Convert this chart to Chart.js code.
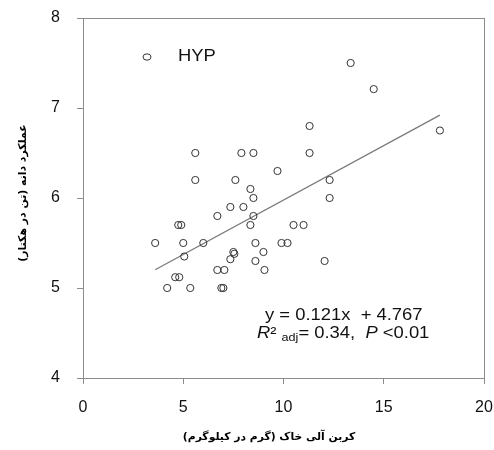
<!DOCTYPE html>
<html>
<head>
<meta charset="utf-8">
<script src="https://cdn.jsdelivr.net/npm/chart.js@4.4.0/dist/chart.umd.min.js"></script>
<style>
    html, body { margin: 0; padding: 0; background: #fff; }
</style>
</head>
<body>
<canvas id="chart" width="494" height="450"></canvas>
<script>
// Dados
const carbonoSolo = [5.6, 7.9, 8.5, 5.6, 7.6, 8.35, 9.7, 13.35, 14.5, 11.3, 17.8, 11.3, 12.3, 8.5, 7.35, 8.0,
    6.7, 8.5, 4.75, 4.9, 8.35, 3.6, 5.0, 6.0, 8.6, 9.9, 10.2, 7.5, 7.55, 9.0, 5.05, 7.35, 8.6, 6.7, 7.05,
    9.05, 4.6, 4.8, 4.2, 5.35, 6.9, 7.0, 12.3, 10.5, 11.0, 12.05];
const rendimento = [6.5, 6.5, 6.5, 6.2, 6.2, 6.1, 6.3, 7.5, 7.21, 6.8, 6.75, 6.5, 6.2, 6.0, 5.9, 5.9,
    5.8, 5.8, 5.7, 5.7, 5.7, 5.5, 5.5, 5.5, 5.5, 5.5, 5.5, 5.4, 5.38, 5.4, 5.35, 5.32, 5.3, 5.2, 5.2,
    5.2, 5.12, 5.12, 5.0, 5.0, 5.0, 5.0, 6.0, 5.7, 5.7, 5.3];
const xTicks = [0, 5, 10, 15, 20];
const yTicks = [4, 5, 6, 7, 8];
const serieLabel = 'HYP';
const tituloX = 'کربن آلی خاک (گرم در کیلوگرم)';
const tituloY = 'عملکرد دانه (تن در هکتار)';
const inclinacao = 0.121;
const intercepto = 4.767;
const faixaAjuste = [3.6, 17.8];

const pontos = carbonoSolo.map((x, i) => ({ x: x, y: rendimento[i] }));
const linhaAjuste = faixaAjuste.map(x => ({ x: x, y: inclinacao * x + intercepto }));

const fonteBase = '"Liberation Sans", Arial, sans-serif';
const fonteTitulo = '"DejaVu Sans", sans-serif';
const corEixo = '#8c8c8c';

// Ajustar tamanho da fonte para caber na largura desejada
function fonteParaLargura(ctx, texto, largura) {
    ctx.font = 'bold 10px ' + fonteTitulo;
    const w = ctx.measureText(texto).width;
    const tam = Math.max(8, Math.min(14, 10 * largura / w));
    return 'bold ' + tam.toFixed(1) + 'px ' + fonteTitulo;
}

// Desenhar moldura, legenda, títulos e equação
const extras = {
    id: 'extras',
    afterDraw(chart) {
        const ctx = chart.ctx;
        const a = chart.chartArea;
        ctx.save();
        ctx.strokeStyle = corEixo;
        ctx.lineWidth = 1;
        ctx.strokeRect(Math.round(a.left) + 0.5, Math.round(a.top) + 0.5,
            Math.round(a.right - a.left), Math.round(a.bottom - a.top));

        // legenda
        ctx.beginPath();
        ctx.ellipse(147, 57, 4, 3.2, 0, 0, Math.PI * 2);
        ctx.strokeStyle = '#333';
        ctx.stroke();
        ctx.fillStyle = '#111';
        ctx.font = '16px ' + fonteBase;
        ctx.textBaseline = 'middle';
        ctx.textAlign = 'left';
        ctx.save();
        ctx.translate(178, 57);
        ctx.scale(1.15, 1);
        ctx.fillText(serieLabel, 0, 0);
        ctx.restore();

        // equação
        ctx.textBaseline = 'alphabetic';
        ctx.save();
        ctx.translate(265, 320);
        ctx.scale(1.15, 1);
        ctx.font = '16px ' + fonteBase;
        ctx.fillText('y = ' + inclinacao + 'x  + ' + intercepto, 0, 0);
        ctx.restore();

        ctx.save();
        ctx.translate(257, 338);
        ctx.scale(1.15, 1);
        const partes = [
            ['R', 'italic 16px', 0],
            ['² ', '16px', 0],
            ['adj', '11px', 3],
            ['= 0.34,  ', '16px', 0],
            ['P', 'italic 16px', 0],
            [' <0.01', '16px', 0]
        ];
        let cx = 0;
        partes.forEach(p => {
            ctx.font = p[1] + ' ' + fonteBase;
            ctx.fillText(p[0], cx, p[2]);
            cx += ctx.measureText(p[0]).width;
        });
        ctx.restore();

        // títulos dos eixos
        ctx.direction = 'rtl';
        ctx.textAlign = 'center';
        ctx.textBaseline = 'middle';
        ctx.fillStyle = '#000';
        ctx.font = fonteParaLargura(ctx, tituloX, 172);
        ctx.fillText(tituloX, 269, 437);
        ctx.save();
        ctx.translate(23, 193);
        ctx.rotate(-Math.PI / 2);
        ctx.font = fonteParaLargura(ctx, tituloY, 138);
        ctx.fillText(tituloY, 0, 0);
        ctx.restore();
        ctx.restore();
    }
};

new Chart(document.getElementById('chart'), {
    type: 'scatter',
    data: {
        datasets: [{
            label: serieLabel,
            data: pontos,
            pointStyle: 'circle',
            pointRadius: 3.6,
            backgroundColor: 'rgba(255,255,255,0)',
            borderColor: '#333',
            borderWidth: 1
        }, {
            label: 'ajuste',
            type: 'line',
            data: linhaAjuste,
            borderColor: '#7a7a7a',
            borderWidth: 1.3,
            pointRadius: 0,
            fill: false
        }]
    },
    options: {
        responsive: false,
        animation: false,
        layout: { padding: { top: 18, right: 10, left: 0, bottom: 0 } },
        plugins: {
            legend: { display: false },
            tooltip: { enabled: false }
        },
        scales: {
            x: {
                type: 'linear',
                min: xTicks[0],
                max: xTicks[xTicks.length - 1],
                afterBuildTicks: s => { s.ticks = xTicks.map(v => ({ value: v })); },
                afterFit: s => { s.height = 72; s.paddingLeft = 0; s.paddingRight = 0; },
                grid: { drawOnChartArea: false, drawTicks: true, tickLength: 6, color: corEixo },
                border: { color: corEixo },
                ticks: { font: { family: fonteBase, size: 16 }, color: '#111', padding: 14, maxRotation: 0 }
            },
            y: {
                type: 'linear',
                min: yTicks[0],
                max: yTicks[yTicks.length - 1],
                afterBuildTicks: s => { s.ticks = yTicks.map(v => ({ value: v })); },
                afterFit: s => { s.width = 83; s.paddingTop = 0; s.paddingBottom = 0; },
                grid: { drawOnChartArea: false, drawTicks: true, tickLength: 6, color: corEixo },
                border: { color: corEixo },
                ticks: { font: { family: fonteBase, size: 16 }, color: '#111', padding: 17 }
            }
        }
    },
    plugins: [extras]
});
</script>
</body>
</html>
